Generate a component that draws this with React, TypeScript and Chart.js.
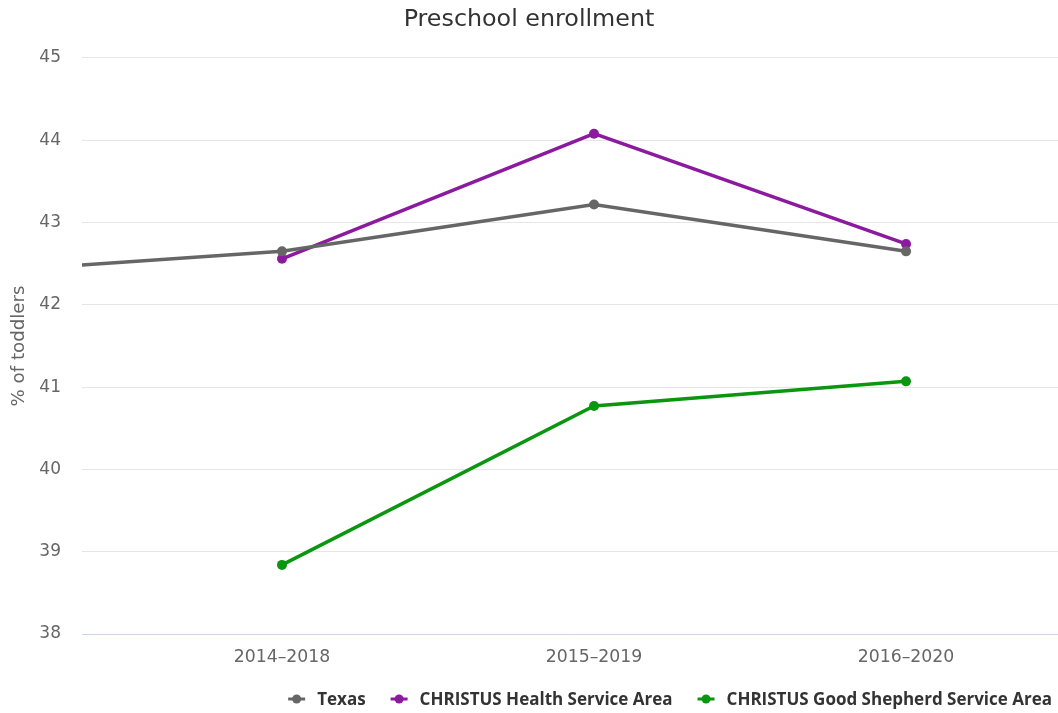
import React, { useEffect, useRef } from "react";
import { Chart, registerables } from "chart.js";

Chart.register(...registerables);

const categories = ["2013–2017", "2014–2018", "2015–2019", "2016–2020"];
const texas = [42.39, 42.65, 43.22, 42.65];
const healthArea = [null, 42.56, 44.08, 42.74];
const goodShepherd = [null, 38.84, 40.77, 41.07];
const seriesNames = ["Texas", "CHRISTUS Health Service Area", "CHRISTUS Good Shepherd Service Area"];
const seriesColors = ["#666666", "#8B1A9F", "#0A960F"];
const yTicks = [38, 39, 40, 41, 42, 43, 44, 45];

const FONT = "'DejaVu Sans', sans-serif";
const LEGEND_FONT = "'Open Sans', sans-serif";

function toPoints(values: (number | null)[]) {
  const pts: { x: number; y: number }[] = [];
  values.forEach((v, i) => {
    if (v !== null) pts.push({ x: i, y: v });
  });
  return pts;
}

const legendPlugin = {
  id: "customLegend",
  afterDraw(chart: any) {
    const ctx = chart.ctx as CanvasRenderingContext2D;
    const datasets = chart.data.datasets;
    const symbolW = 17;
    const symbolGap = 12;
    const itemGap = 25;
    const rightEdge = 1052;
    const cy = 699;
    ctx.save();
    ctx.font = `bold 17px ${LEGEND_FONT}`;
    ctx.textBaseline = "middle";
    ctx.textAlign = "left";
    const widths = datasets.map((ds: any) => ctx.measureText(ds.label).width);
    const total =
      widths.reduce((a: number, w: number) => a + w + symbolW + symbolGap, 0) + itemGap * (datasets.length - 1);
    let x = rightEdge - total;
    datasets.forEach((ds: any, i: number) => {
      const color = ds.borderColor;
      ctx.strokeStyle = color;
      ctx.lineWidth = 3;
      ctx.beginPath();
      ctx.moveTo(x, cy);
      ctx.lineTo(x + symbolW, cy);
      ctx.stroke();
      ctx.fillStyle = color;
      ctx.beginPath();
      ctx.arc(x + symbolW / 2, cy, 4.5, 0, Math.PI * 2);
      ctx.fill();
      ctx.fillStyle = "#333333";
      ctx.fillText(ds.label, x + symbolW + symbolGap, cy + 1);
      x += symbolW + symbolGap + widths[i] + itemGap;
    });
    ctx.restore();
  },
};

export default function App() {
  const ref = useRef<HTMLCanvasElement | null>(null);

  useEffect(() => {
    if (!ref.current) return;
    const allSeries = [texas, healthArea, goodShepherd];
    const chart = new Chart(ref.current, {
      type: "line",
      data: {
        datasets: allSeries.map((s, i) => ({
          label: seriesNames[i],
          data: toPoints(s),
          borderColor: seriesColors[i],
          backgroundColor: seriesColors[i],
          borderWidth: 3.5,
          pointRadius: 5,
          pointBorderWidth: 0,
          pointBackgroundColor: seriesColors[i],
          pointBorderColor: seriesColors[i],
          tension: 0,
          fill: false,
        })),
      },
      plugins: [legendPlugin],
      options: {
        animation: false,
        responsive: false,
        maintainAspectRatio: false,
        layout: { autoPadding: false, padding: { left: 0, right: 0, top: 0, bottom: 39 } },
        plugins: {
          title: {
            display: true,
            text: "Preschool enrollment",
            color: "#333333",
            font: { family: FONT, size: 23.8, weight: "normal" },
            padding: { top: 5.7, bottom: 23.7 },
          },
          legend: { display: false },
          tooltip: { enabled: false },
        },
        scales: {
          x: {
            type: "linear",
            min: 0.359,
            max: 3.487,
            afterBuildTicks: (scale: any) => {
              scale.ticks = [1, 2, 3].map((v) => ({ value: v }));
            },
            ticks: {
              color: "#666666",
              font: { family: FONT, size: 17.3 },
              padding: 13,
              maxRotation: 0,
              autoSkip: false,
              callback: (value: any) => categories[Number(value)] ?? "",
            },
            grid: { display: false, drawTicks: false },
            border: { display: true, color: "#ccd6eb", width: 1 },
            afterFit: (scale: any) => {
              scale.height = 40;
            },
          },
          y: {
            min: 38,
            max: 45,
            afterBuildTicks: (scale: any) => {
              scale.ticks = yTicks.map((v) => ({ value: v }));
            },
            ticks: {
              color: "#666666",
              font: { family: FONT, size: 17 },
              padding: 21,
            },
            grid: { color: "#e6e6e6", drawTicks: false, lineWidth: 1 },
            border: { display: false },
            title: {
              display: true,
              text: "% of toddlers",
              color: "#666666",
              font: { family: FONT, size: 18.2 },
              padding: { top: 8, bottom: 0 },
            },
            afterFit: (scale: any) => {
              scale.width = 82;
            },
          },
        },
      },
    });
    return () => chart.destroy();
  }, []);

  return (
    <div style={{ position: "fixed", left: 0, top: 0, width: 1058, height: 713, background: "#ffffff" }}>
      <canvas ref={ref} width={1058} height={713} style={{ display: "block" }} />
    </div>
  );
}
